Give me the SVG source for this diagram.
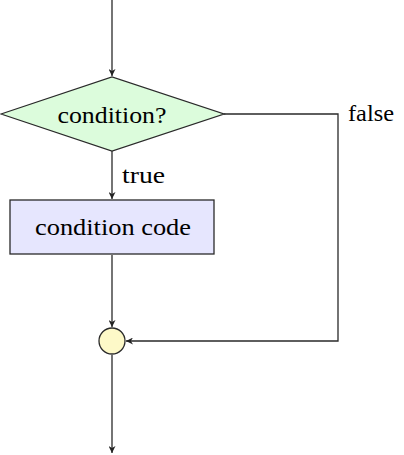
<svg xmlns="http://www.w3.org/2000/svg" width="404" height="455" viewBox="0 0 404 455">
<style>
.ln{fill:none;stroke:#2a2a2a;stroke-width:1.3}
.nd{stroke:#2a2a2a;stroke-width:1.3}
.tx{font-family:'Liberation Serif','Times New Roman',serif;fill:#000}
</style>
<defs>
<marker id="ah" viewBox="0 0 10 10" refX="10" refY="5" markerWidth="7" markerHeight="7" markerUnits="userSpaceOnUse" orient="auto">
<path d="M0,0 L10,5 L0,10 L3,5 Z" fill="#222"/>
</marker>
</defs>
<rect width="404" height="455" fill="#fff"/>
<g id="connectors">
<path class="ln" d="M112,0 V76" marker-end="url(#ah)"/>
<path class="ln" d="M112,151 V199" marker-end="url(#ah)"/>
<path class="ln" d="M112,255 V327" marker-end="url(#ah)"/>
<path class="ln" d="M224,114 H338 V341 H126" marker-end="url(#ah)"/>
<path class="ln" d="M112,355 V453" marker-end="url(#ah)"/>
</g>
<g id="decision">
<polygon class="nd" points="1,114 112,77 224,114 112,151" fill="#dcfcdc"/>
<text class="tx" x="112" y="123" font-size="24" text-anchor="middle" textLength="109" lengthAdjust="spacingAndGlyphs">condition?</text>
</g>
<g id="code">
<rect class="nd" x="10" y="200" width="204" height="54" fill="#e6e6fe"/>
<text class="tx" x="113" y="235" font-size="24" text-anchor="middle" textLength="156" lengthAdjust="spacingAndGlyphs">condition code</text>
</g>
<g id="join">
<circle class="nd" cx="112" cy="341" r="13" fill="#fdf9c8"/>
</g>
<g id="labels">
<text class="tx" x="122" y="183" font-size="23" textLength="43" lengthAdjust="spacingAndGlyphs">true</text>
<text class="tx" x="348" y="121" font-size="23" textLength="46" lengthAdjust="spacingAndGlyphs">false</text>
</g>
</svg>
